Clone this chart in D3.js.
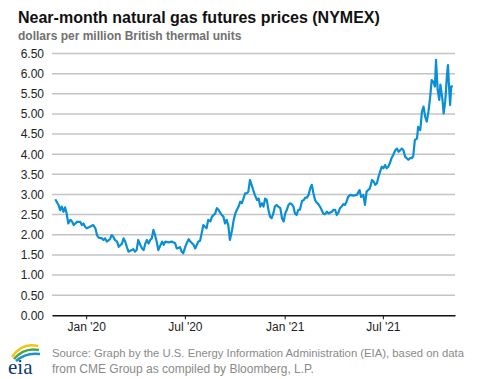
<!DOCTYPE html>
<html><head><meta charset="utf-8">
<script src="https://cdn.jsdelivr.net/npm/d3@7"></script>
<style>
body{margin:0;background:#fff;}
svg{display:block;font-family:"Liberation Sans",Arial,sans-serif;}
</style></head>
<body><svg id="c" width="477" height="379"></svg>
<script>
const titleText = "Near-month natural gas futures prices (NYMEX)";
const subtitleText = "dollars per million British thermal units";
const sourceLines = ["Source: Graph by the U.S. Energy Information Administration (EIA), based on data",
                     "from CME Group as compiled by Bloomberg, L.P."];
const yTicks = [0,0.5,1,1.5,2,2.5,3,3.5,4,4.5,5,5.5,6,6.5];
const xTickDates = ["2020-01-01","2020-07-01","2021-01-01","2021-07-01"];
const xTickLabels = ["Jan '20","Jul '20","Jan '21","Jul '21"];
const xDomain = ["2019-10-30","2021-11-11"];

const dates = [
"2019-11-05","2019-11-11","2019-11-14","2019-11-17","2019-11-20","2019-11-23","2019-11-26","2019-11-29",
"2019-12-03","2019-12-06","2019-12-09","2019-12-15","2019-12-21","2019-12-24","2019-12-27","2019-12-30",
"2020-01-02","2020-01-08","2020-01-14","2020-01-18","2020-01-21","2020-01-24","2020-01-30",
"2020-02-02","2020-02-05","2020-02-08","2020-02-14","2020-02-17","2020-02-20","2020-02-23","2020-02-27",
"2020-03-01","2020-03-04","2020-03-07","2020-03-10","2020-03-13","2020-03-16","2020-03-19","2020-03-25","2020-03-28","2020-03-31",
"2020-04-03","2020-04-06","2020-04-10","2020-04-13","2020-04-16","2020-04-19","2020-04-22","2020-04-25","2020-04-28",
"2020-05-01","2020-05-04","2020-05-07","2020-05-10","2020-05-13","2020-05-20","2020-05-23","2020-05-26",
"2020-06-01","2020-06-07","2020-06-13","2020-06-16","2020-06-22","2020-06-25","2020-06-28",
"2020-07-02","2020-07-05","2020-07-08","2020-07-11","2020-07-17","2020-07-20","2020-07-26","2020-07-29",
"2020-08-01","2020-08-04","2020-08-07","2020-08-10","2020-08-13","2020-08-17","2020-08-20","2020-08-23","2020-08-26","2020-08-29",
"2020-09-01","2020-09-04","2020-09-07","2020-09-10","2020-09-13","2020-09-16","2020-09-19","2020-09-22","2020-09-26","2020-09-29",
"2020-10-02","2020-10-05","2020-10-08","2020-10-11","2020-10-14","2020-10-17","2020-10-20","2020-10-23","2020-10-26","2020-10-29",
"2020-11-01","2020-11-04","2020-11-07","2020-11-11","2020-11-14","2020-11-17","2020-11-20","2020-11-23","2020-11-26","2020-11-29",
"2020-12-02","2020-12-05","2020-12-08","2020-12-11","2020-12-14","2020-12-17","2020-12-20","2020-12-24","2020-12-27","2020-12-30",
"2021-01-02","2021-01-05","2021-01-08","2021-01-11","2021-01-14","2021-01-17","2021-01-20","2021-01-23","2021-01-26","2021-01-29",
"2021-02-02","2021-02-05","2021-02-08","2021-02-11","2021-02-14","2021-02-17","2021-02-20","2021-02-23","2021-02-26",
"2021-03-01","2021-03-04","2021-03-07","2021-03-10","2021-03-13","2021-03-16","2021-03-20","2021-03-23","2021-03-26","2021-03-29",
"2021-04-01","2021-04-04","2021-04-07","2021-04-10","2021-04-13","2021-04-16","2021-04-19","2021-04-22","2021-04-25","2021-04-28",
"2021-05-02","2021-05-08","2021-05-14","2021-05-19","2021-05-22","2021-05-26","2021-05-29",
"2021-06-01","2021-06-04","2021-06-07","2021-06-11","2021-06-14","2021-06-17","2021-06-20","2021-06-23","2021-06-26","2021-06-29",
"2021-07-02","2021-07-05","2021-07-08","2021-07-11","2021-07-14","2021-07-17","2021-07-20","2021-07-24","2021-07-27","2021-07-30",
"2021-08-02","2021-08-05","2021-08-08","2021-08-11","2021-08-14","2021-08-17","2021-08-20","2021-08-23","2021-08-26","2021-08-29",
"2021-09-02","2021-09-04","2021-09-08","2021-09-11","2021-09-14","2021-09-17","2021-09-20","2021-09-23","2021-09-26","2021-09-29",
"2021-10-02","2021-10-05","2021-10-07","2021-10-10","2021-10-13","2021-10-15","2021-10-19","2021-10-21","2021-10-24","2021-10-27","2021-10-29","2021-10-31",
"2021-11-02","2021-11-04","2021-11-07"
];
const prices = [
2.88,2.74,2.61,2.70,2.57,2.68,2.53,2.28,
2.37,2.33,2.24,2.32,2.32,2.24,2.28,2.20,
2.16,2.20,2.24,2.16,1.99,1.93,1.91,
1.87,1.91,1.83,1.89,1.99,1.95,1.87,1.83,
1.70,1.74,1.78,1.91,1.83,1.70,1.58,1.62,1.64,1.58,
1.62,1.87,1.74,1.66,1.62,1.78,1.87,1.78,1.87,
1.91,2.12,1.99,1.83,1.62,1.83,1.75,1.83,
1.81,1.83,1.79,1.66,1.69,1.58,1.54,
1.71,1.81,1.89,1.83,1.75,1.66,1.83,1.85,
2.04,2.24,2.20,2.16,2.37,2.33,2.45,2.49,2.53,2.66,
2.62,2.55,2.49,2.45,2.28,2.37,2.24,1.87,2.12,2.37,
2.53,2.62,2.70,2.82,2.78,2.90,3.03,3.03,3.07,3.36,
3.24,3.11,2.99,2.86,2.90,2.70,2.78,2.70,2.90,2.86,
2.62,2.45,2.41,2.53,2.70,2.74,2.70,2.66,2.41,2.33,
2.53,2.62,2.74,2.78,2.76,2.70,2.53,2.49,2.62,2.62,
2.84,2.86,2.92,2.92,2.99,3.15,3.24,3.03,2.86,
2.80,2.76,2.70,2.62,2.53,2.51,2.57,2.53,2.55,2.57,
2.62,2.62,2.49,2.55,2.66,2.70,2.76,2.74,2.82,2.94,
2.99,2.97,2.99,3.11,2.94,2.99,2.74,
3.07,3.11,3.15,3.36,3.32,3.24,3.28,3.44,3.57,3.69,
3.65,3.73,3.65,3.69,3.78,3.90,3.98,4.10,4.14,4.06,
4.10,4.14,4.10,3.94,3.90,3.86,3.90,3.90,3.95,4.35,
4.39,4.68,4.60,5.05,5.18,4.93,4.81,5.05,5.39,5.84,
5.80,5.68,6.34,5.60,5.35,5.73,5.35,5.01,5.31,5.93,6.21,5.68,
5.22,5.68,5.69
];

const parse = d3.timeParse("%Y-%m-%d");
const data = dates.map((d,i)=>({date:parse(d), v:prices[i]}));

const svg = d3.select("#c");
const x = d3.scaleTime().domain(xDomain.map(parse)).range([52,455]);
const y = d3.scaleLinear().domain([0,6.5]).range([315.3,53.5]);

svg.append("text").attr("x",18).attr("y",23).attr("font-size",16).attr("font-weight","bold")
  .attr("fill","#111").text(titleText);
svg.append("text").attr("x",18).attr("y",40).attr("font-size",12).attr("font-weight","bold")
  .attr("fill","#707070").text(subtitleText);

// grid + y labels
const yAxis = d3.axisLeft(y).tickValues(yTicks).tickFormat(d3.format(".2f")).tickSize(0).tickPadding(8);
const gy = svg.append("g").attr("transform","translate(52,0)").call(yAxis);
gy.select(".domain").remove();
gy.selectAll("text").attr("font-size",12).attr("fill","#222").attr("font-family","Liberation Sans, Arial, sans-serif");
svg.append("g").selectAll("line").data(yTicks.filter(t=>t>0)).join("line")
  .attr("x1",52).attr("x2",455).attr("y1",d=>y(d)).attr("y2",d=>y(d))
  .attr("stroke","#c4c4c4").attr("stroke-width",1.5);

// x axis
const xAxis = d3.axisBottom(x).tickValues(xTickDates.map(parse))
  .tickFormat((d,i)=>xTickLabels[i]).tickSize(4).tickSizeOuter(0).tickPadding(3);
const gx = svg.append("g").attr("transform","translate(0,315.3)").call(xAxis);
gx.select(".domain").attr("stroke","#111").attr("stroke-width",1.6);
gx.selectAll(".tick line").attr("stroke","#111");
gx.selectAll("text").attr("font-size",12).attr("fill","#222").attr("font-family","Liberation Sans, Arial, sans-serif");

// line
svg.append("path").datum(data)
  .attr("fill","none").attr("stroke","#0a8fd4").attr("stroke-width",2.2).attr("stroke-linejoin","round")
  .attr("d",d3.line().x(d=>x(d.date)).y(d=>y(d.v)));

// footer
const srcSize = [11.3, 12];
sourceLines.forEach((t,i)=>{
  svg.append("text").attr("x",52).attr("y",357+i*16).attr("font-size",srcSize[i]).attr("fill","#8a8a8a").text(t);
});
// eia logo
const logo = svg.append("g");
logo.append("path").attr("d","M12,357 Q22,342 38,346").attr("fill","none").attr("stroke","#f2c318").attr("stroke-width",2.5);
logo.append("path").attr("d","M14,359 Q24,347 39,350").attr("fill","none").attr("stroke","#4aa84a").attr("stroke-width",2.5);
logo.append("path").attr("d","M16,361 Q26,352 40,354").attr("fill","none").attr("stroke","#1f8fd0").attr("stroke-width",2.5);
logo.append("text").attr("x",8).attr("y",374).attr("font-family","Liberation Serif, Times New Roman, serif")
  .attr("font-size",21).attr("fill","#0b3b6e").text("eia");
</script></body></html>
